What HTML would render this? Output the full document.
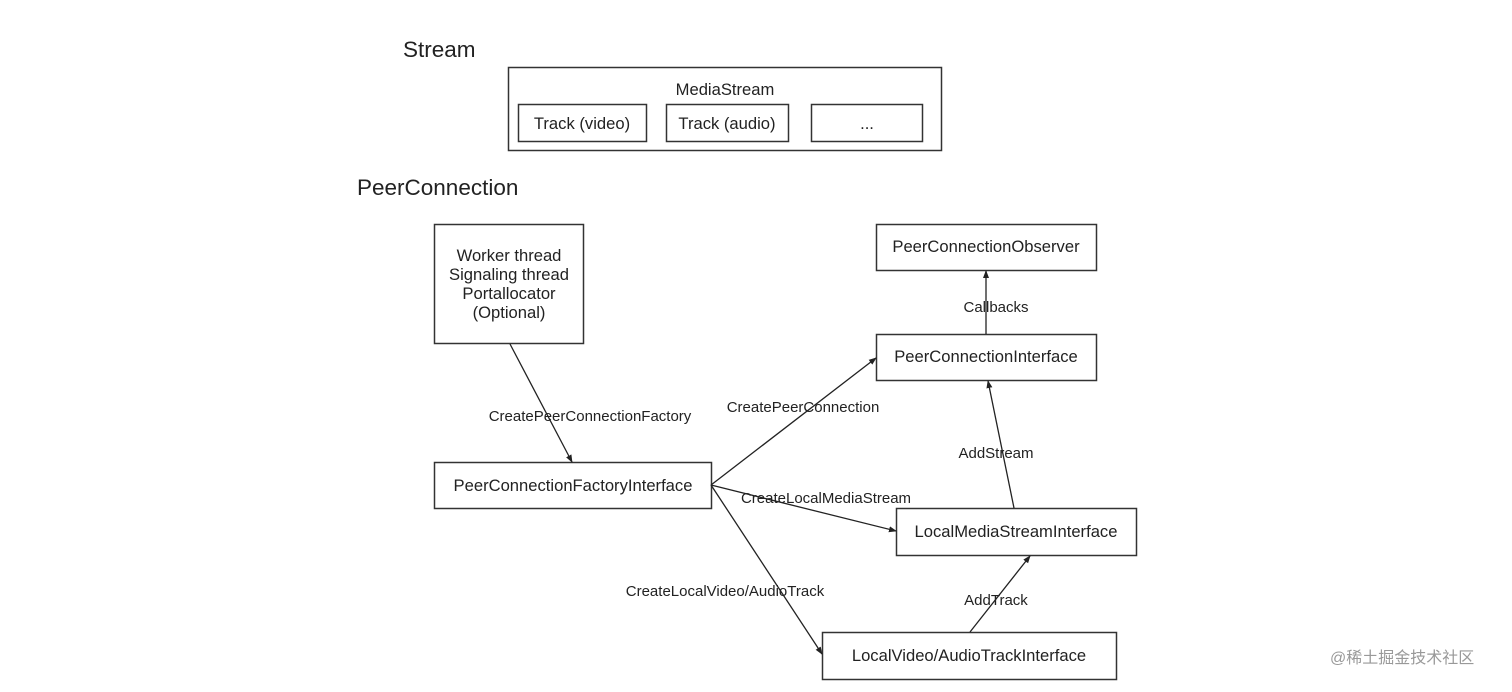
<!DOCTYPE html>
<html><head><meta charset="utf-8"><style>
body{margin:0;background:#fff;}
svg text{font-family:"Liberation Sans","Noto Sans CJK SC",sans-serif;fill:#222;}
</style></head><body>
<svg width="1512" height="687" xmlns="http://www.w3.org/2000/svg">
<defs><marker id="a" markerWidth="8" markerHeight="8" refX="7" refY="4" orient="auto" markerUnits="userSpaceOnUse"><path d="M0,1 L8,4 L0,7 z" fill="#222"/></marker></defs>
<text x="403" y="57" font-size="22.5">Stream</text>
<text x="357" y="195" font-size="22.5">PeerConnection</text>
<g fill="none" stroke="#333" stroke-width="1.5">
<rect x="508.5" y="67.5" width="433" height="83"/>
<rect x="518.5" y="104.5" width="128" height="37"/>
<rect x="666.5" y="104.5" width="122" height="37"/>
<rect x="811.5" y="104.5" width="111" height="37"/>
<rect x="434.5" y="224.5" width="149" height="119"/>
<rect x="876.5" y="224.5" width="220" height="46"/>
<rect x="876.5" y="334.5" width="220" height="46"/>
<rect x="434.5" y="462.5" width="277" height="46"/>
<rect x="896.5" y="508.5" width="240" height="47"/>
<rect x="822.5" y="632.5" width="294" height="47"/>
</g>
<g stroke="#222" stroke-width="1.3" marker-end="url(#a)">
<line x1="510" y1="344" x2="572" y2="462"/>
<line x1="711" y1="485" x2="876" y2="358"/>
<line x1="711" y1="485" x2="896" y2="531"/>
<line x1="711" y1="485" x2="822" y2="654"/>
<line x1="1014" y1="508" x2="988" y2="381"/>
<line x1="970" y1="632" x2="1030" y2="556"/>
<line x1="986" y1="334" x2="986" y2="271"/>
</g>
<g font-size="16.6" text-anchor="middle">
<text x="725" y="95">MediaStream</text>
<text x="582" y="129">Track (video)</text>
<text x="727" y="129">Track (audio)</text>
<text x="867" y="129">...</text>
<text x="509" y="261">Worker thread</text>
<text x="509" y="280">Signaling thread</text>
<text x="509" y="299">Portallocator</text>
<text x="509" y="318">(Optional)</text>
<text x="986" y="252">PeerConnectionObserver</text>
<text x="986" y="362">PeerConnectionInterface</text>
<text x="573" y="491">PeerConnectionFactoryInterface</text>
<text x="1016" y="537">LocalMediaStreamInterface</text>
<text x="969" y="661">LocalVideo/AudioTrackInterface</text>
</g>
<g font-size="15" text-anchor="middle">
<text x="996" y="312">Callbacks</text>
<text x="590" y="421">CreatePeerConnectionFactory</text>
<text x="803" y="412">CreatePeerConnection</text>
<text x="996" y="458">AddStream</text>
<text x="826" y="503">CreateLocalMediaStream</text>
<text x="725" y="596">CreateLocalVideo/AudioTrack</text>
<text x="996" y="605">AddTrack</text>
</g>
<text x="1330" y="663" font-size="16" style="fill:#999">@稀土掘金技术社区</text>
</svg>
</body></html>
